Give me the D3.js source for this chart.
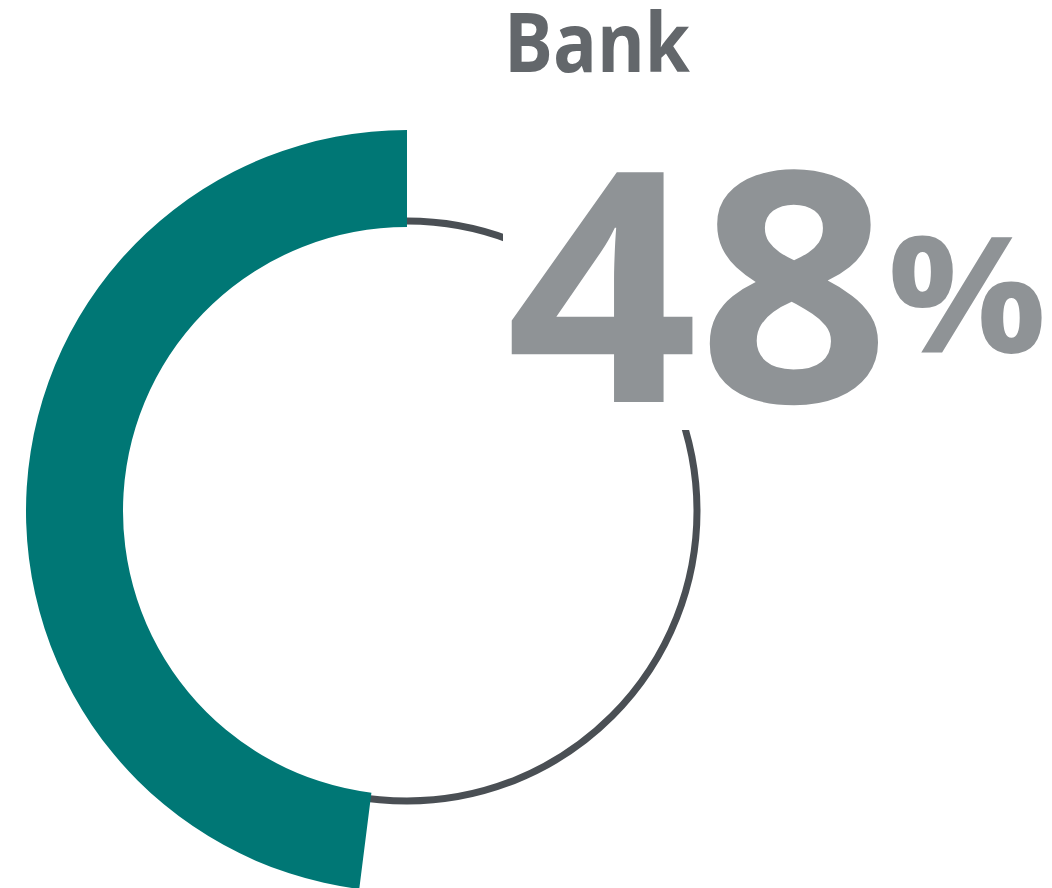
<!DOCTYPE html>
<html>
<head>
<meta charset="utf-8">
<script src="https://cdn.jsdelivr.net/npm/d3@7"></script>
<style>
  html, body { margin: 0; padding: 0; background: #ffffff; }
  svg { display: block; }
</style>
</head>
<body>
<svg id="chart" width="1052" height="888"></svg>
<script>
// ---- data ----
const categories = ["Bank"];
const values = [48];          // percent
const valueLabels = ["48"];
const unitLabels = ["%"];

// ---- layout ----
const W = 1052, H = 888;
const cx = 407, cy = 511;
const ringR = 290, innerR = 284, outerR = 381;

const svg = d3.select("#chart");
const g = svg.append("g").attr("transform", `translate(${cx},${cy})`);

// percent -> angle (counter-clockwise from top)
const angle = d3.scaleLinear().domain([0, 100]).range([0, -2 * Math.PI]);

// thin background circle
g.append("circle")
  .attr("r", ringR)
  .attr("fill", "none")
  .attr("stroke", "#4a4f54")
  .attr("stroke-width", 7);

// value arc
const arc = d3.arc().innerRadius(innerR).outerRadius(outerR);
g.selectAll("path.value")
  .data(values)
  .join("path")
  .attr("class", "value")
  .attr("fill", "#007775")
  .attr("d", d => arc({ startAngle: angle(d), endAngle: 0 }));

// white knock-out behind the big number
svg.append("rect")
  .attr("x", 503).attr("y", 150)
  .attr("width", 200).attr("height", 280)
  .attr("fill", "#ffffff");

// title
svg.append("text")
  .text(categories[0])
  .attr("x", 504).attr("y", 72)
  .attr("font-family", "'Open Sans', sans-serif")
  .attr("font-weight", 700)
  .attr("font-size", 83)
  .attr("fill", "#63676b")
  .attr("textLength", 186)
  .attr("lengthAdjust", "spacingAndGlyphs");

// big number
svg.append("text")
  .text(valueLabels[0])
  .attr("x", 506).attr("y", 402)
  .attr("font-family", "'Open Sans', sans-serif")
  .attr("font-weight", 700)
  .attr("font-size", 322)
  .attr("fill", "#8f9396")
  .attr("textLength", 384)
  .attr("lengthAdjust", "spacingAndGlyphs");

// percent sign
svg.append("text")
  .text(unitLabels[0])
  .attr("x", 887).attr("y", 353)
  .attr("font-family", "'Open Sans', sans-serif")
  .attr("font-weight", 700)
  .attr("font-size", 162)
  .attr("fill", "#8f9396")
  .attr("textLength", 160)
  .attr("lengthAdjust", "spacingAndGlyphs");
</script>
</body>
</html>
